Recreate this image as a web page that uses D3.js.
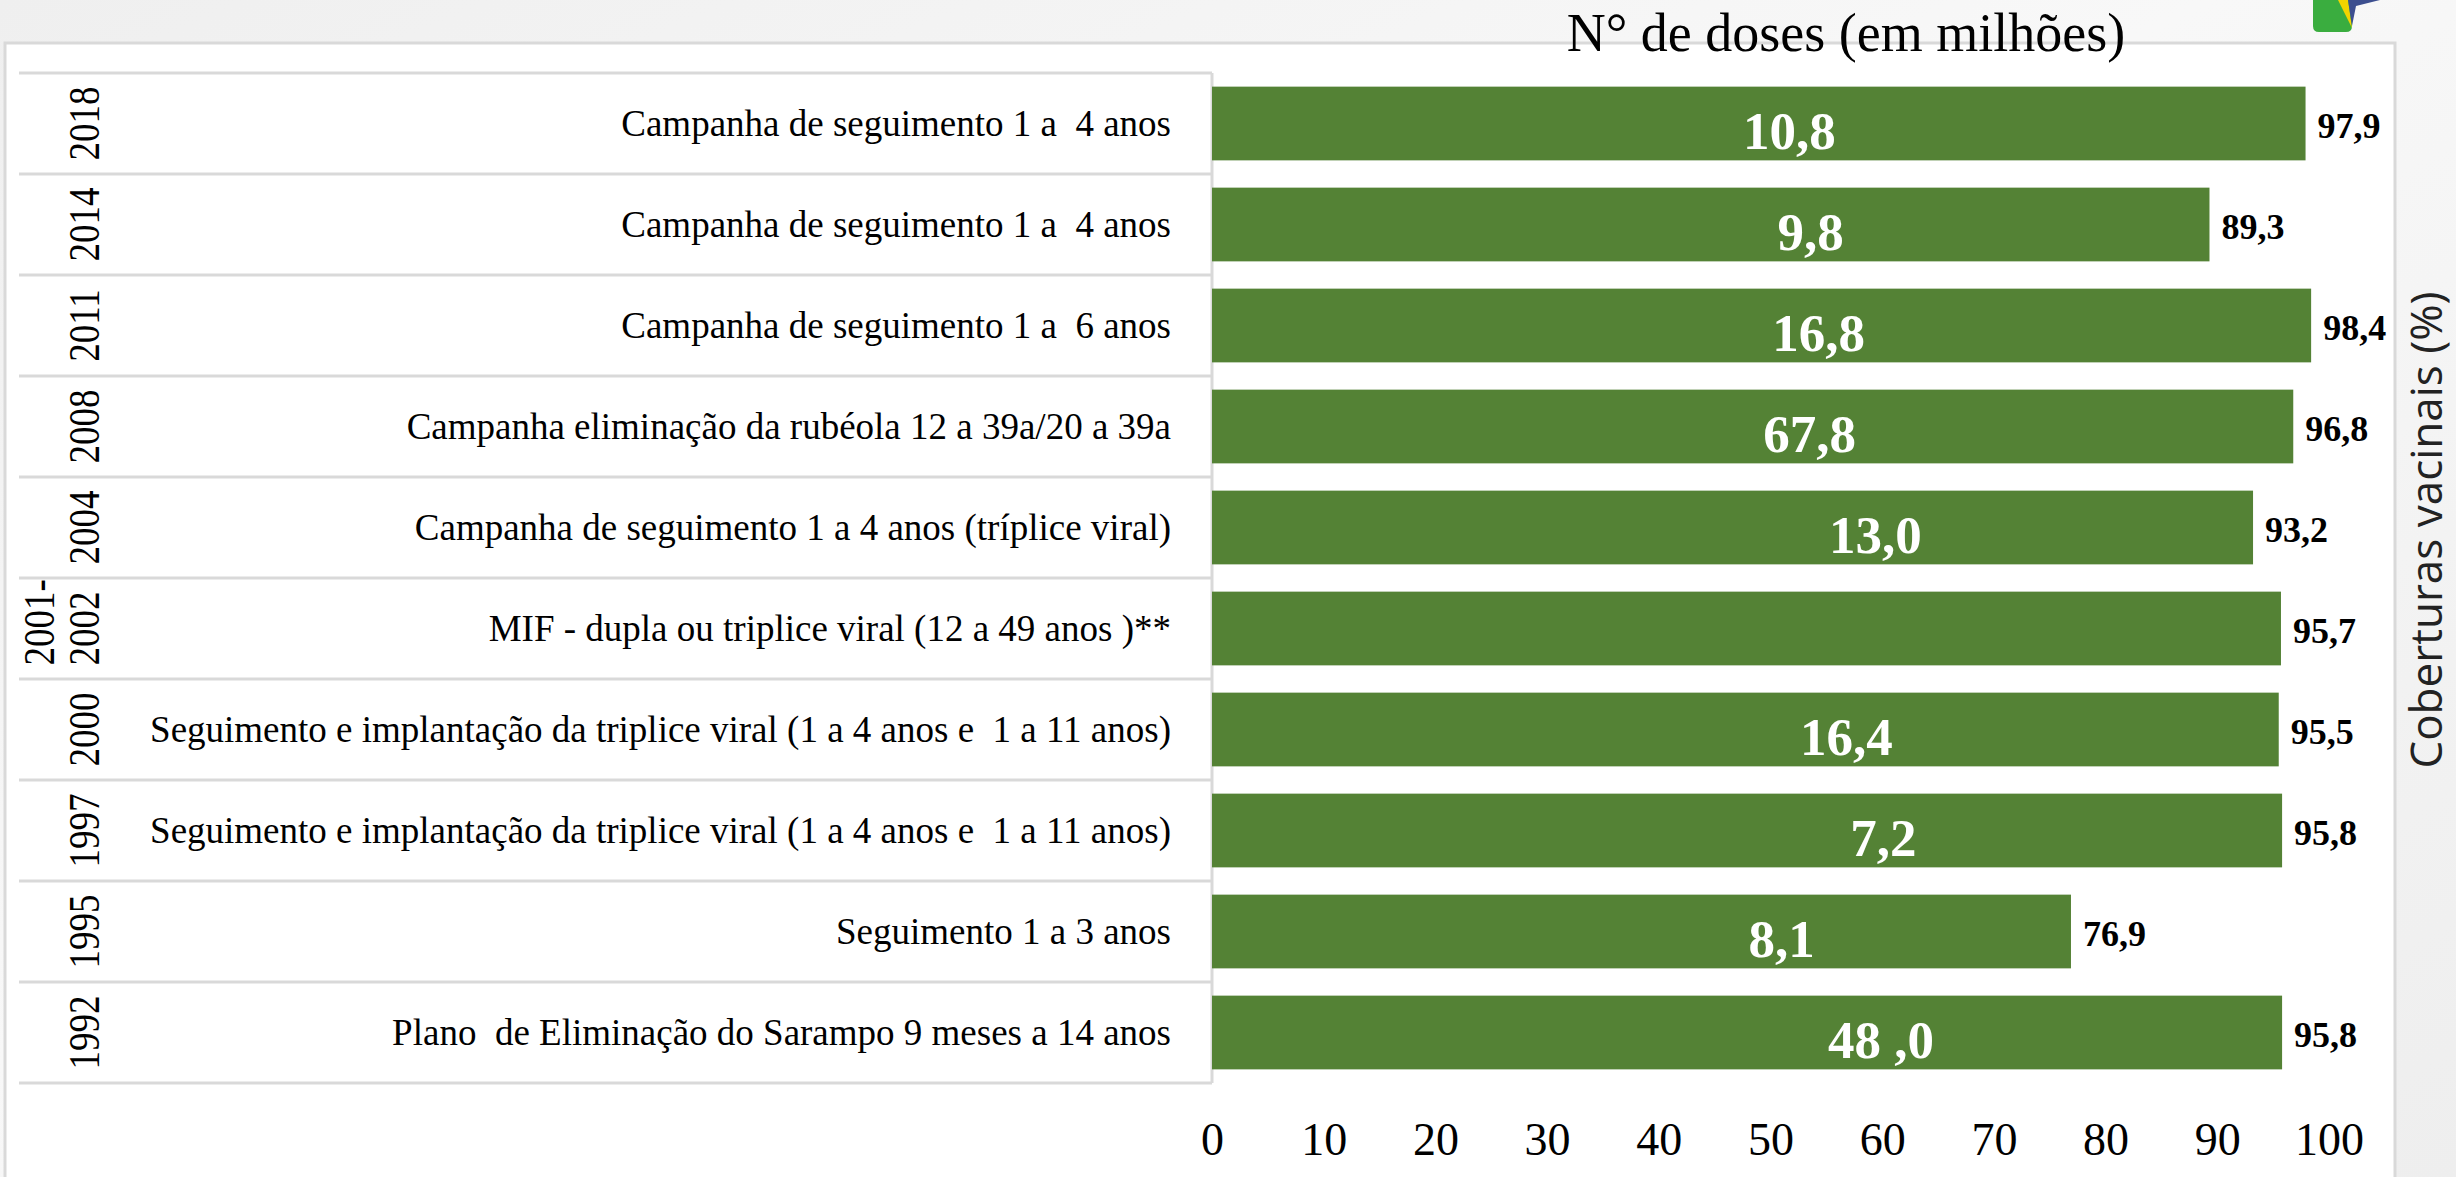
<!DOCTYPE html>
<html>
<head>
<meta charset="utf-8">
<script src="https://cdn.jsdelivr.net/npm/d3@7"></script>
<style>
  html, body { margin: 0; padding: 0; background: #f2f2f2; }
  svg text { white-space: pre; }
</style>
</head>
<body>
<svg id="chart" width="2456" height="1177"></svg>
<script>
// rows, top to bottom
const years = ["2018", "2014", "2011", "2008", "2004", "2001-\n2002", "2000", "1997", "1995", "1992"];
const campaigns = [
  "Campanha de seguimento 1 a  4 anos",
  "Campanha de seguimento 1 a  4 anos",
  "Campanha de seguimento 1 a  6 anos",
  "Campanha eliminação da rubéola 12 a 39a/20 a 39a",
  "Campanha de seguimento 1 a 4 anos (tríplice viral)",
  "MIF - dupla ou triplice viral (12 a 49 anos )**",
  "Seguimento e implantação da triplice viral (1 a 4 anos e  1 a 11 anos)",
  "Seguimento e implantação da triplice viral (1 a 4 anos e  1 a 11 anos)",
  "Seguimento 1 a 3 anos",
  "Plano  de Eliminação do Sarampo 9 meses a 14 anos"
];
// coverage (%) -> bar length
const coverage = [97.9, 89.3, 98.4, 96.8, 93.2, 95.7, 95.5, 95.8, 76.9, 95.8];
// doses (millions) written inside the bars, and where on the axis each one sits
const doseText = ["10,8", "9,8", "16,8", "67,8", "13,0", "", "16,4", "7,2", "8,1", "48 ,0"];
const doseLabelAt = [51.7, 53.6, 54.3, 53.5, 59.4, 0, 56.8, 60.1, 51.0, 59.9];
const xTicks = [0, 10, 20, 30, 40, 50, 60, 70, 80, 90, 100];

const ptBR = d3.formatLocale({decimal: ",", thousands: ".", grouping: [3], currency: ["R$", ""]});
const fmt = ptBR.format(".1f");

const svg = d3.select("#chart");
const serif = "'Liberation Serif', 'Times New Roman', serif";

// background + white panel
const defs = svg.append("defs");
const bg = defs.append("linearGradient").attr("id", "bg").attr("x1", 0).attr("y1", 0).attr("x2", 1).attr("y2", 1);
bg.append("stop").attr("offset", "0%").attr("stop-color", "#efefef");
bg.append("stop").attr("offset", "45%").attr("stop-color", "#f8f8f8");
bg.append("stop").attr("offset", "100%").attr("stop-color", "#eeeeee");
svg.append("rect").attr("width", 2456).attr("height", 1177).attr("fill", "url(#bg)");
svg.append("rect")
  .attr("x", 5).attr("y", 43).attr("width", 2390).attr("height", 1150)
  .attr("fill", "#ffffff").attr("stroke", "#d9d9d9").attr("stroke-width", 3);

// little logo peeking at the top right
const logo = svg.append("g");
logo.append("path").attr("d", "M2313,0 L2352,0 L2352,26 Q2352,32 2346,32 L2319,32 Q2313,32 2313,26 Z").attr("fill", "#3aad3f");
logo.append("path").attr("d", "M2338,0 L2348,0 L2352,28 Z").attr("fill", "#f2d400");
logo.append("path").attr("d", "M2348,0 L2380,0 L2356,6 L2352,26 Z").attr("fill", "#3d4f8f");

const keys = d3.range(years.length);
const x = d3.scaleLinear().domain([0, 100]).range([1212, 2329]);
const rowY = d3.scaleBand().domain(keys).range([73, 1083]);
const y = d3.scaleBand().domain(keys).range([73, 1083]).paddingInner(0.27).paddingOuter(0.135);

// table lines
const grid = svg.append("g").attr("stroke", "#d9d9d9").attr("stroke-width", 3);
grid.selectAll("line.h")
  .data(d3.range(years.length + 1))
  .enter().append("line")
  .attr("class", "h")
  .attr("x1", 19).attr("x2", x(0))
  .attr("y1", i => rowY.range()[0] + i * rowY.step())
  .attr("y2", i => rowY.range()[0] + i * rowY.step());
grid.append("line")
  .attr("x1", x(0)).attr("x2", x(0))
  .attr("y1", rowY.range()[0]).attr("y2", rowY.range()[1]);

// year column (rotated)
const yearG = svg.append("g");
keys.forEach(i => {
  const lines = years[i].split("\n");
  const cy = rowY(i) + rowY.bandwidth() / 2;
  const t = yearG.append("text")
    .attr("transform", `translate(84,${cy}) rotate(-90) scale(1,1.22)`)
    .attr("font-family", serif).attr("font-size", 37).attr("fill", "#000");
  lines.forEach((ln, j) => {
    t.append("tspan")
      .attr("x", 0)
      .attr("y", ((j - (lines.length - 1)) * 1 + 0.34) + "em")
      .text(ln);
  });
  if (lines.length > 1) {
    const last = t.selectAll("tspan").nodes()[lines.length - 1];
    const len = last.getComputedTextLength();
    t.attr("text-anchor", "start").selectAll("tspan").attr("x", -len / 2);
  } else {
    t.attr("text-anchor", "middle");
  }
});

// campaign descriptions
svg.append("g").selectAll("text")
  .data(keys)
  .enter().append("text")
  .attr("x", 1171)
  .attr("y", i => rowY(i) + rowY.bandwidth() / 2)
  .attr("dy", "0.33em")
  .attr("text-anchor", "end")
  .attr("font-family", serif).attr("font-size", 37).attr("fill", "#000")
  .text(i => campaigns[i]);

// bars
svg.append("g").selectAll("rect")
  .data(keys)
  .enter().append("rect")
  .attr("x", x(0))
  .attr("y", i => y(i))
  .attr("width", i => x(coverage[i]) - x(0))
  .attr("height", y.bandwidth())
  .attr("fill", "#548235");

// doses inside bars
svg.append("g").selectAll("text")
  .data(keys.filter(i => doseText[i] !== ""))
  .enter().append("text")
  .attr("x", i => x(doseLabelAt[i]))
  .attr("y", i => y(i) + y.bandwidth() / 2 + 7)
  .attr("dy", "0.34em")
  .attr("text-anchor", "middle")
  .attr("font-family", serif).attr("font-weight", "bold").attr("font-size", 53)
  .attr("fill", "#ffffff")
  .text(i => doseText[i]);

// coverage values at bar ends
svg.append("g").selectAll("text")
  .data(keys)
  .enter().append("text")
  .attr("x", i => x(coverage[i]) + 12)
  .attr("y", i => y(i) + y.bandwidth() / 2 + 2)
  .attr("dy", "0.34em")
  .attr("font-family", serif).attr("font-weight", "bold").attr("font-size", 36)
  .attr("fill", "#000")
  .text(i => fmt(coverage[i]));

// x axis
const axis = svg.append("g")
  .attr("transform", "translate(0,1139)")
  .call(d3.axisBottom(x).tickValues(xTicks).tickSize(0).tickPadding(0));
axis.select(".domain").remove();
axis.selectAll("text")
  .attr("y", 0).attr("dy", "0.34em")
  .attr("font-family", serif).attr("font-size", 46).attr("fill", "#000");

// titles
svg.append("text")
  .attr("x", 1846).attr("y", 51)
  .attr("text-anchor", "middle")
  .attr("font-family", serif).attr("font-size", 54).attr("fill", "#000")
  .text("N° de doses (em milhões)");

svg.append("text")
  .attr("transform", "translate(2442,530) rotate(-90)")
  .attr("text-anchor", "middle")
  .attr("font-family", "'Open Sans', sans-serif").attr("font-size", 44).attr("fill", "#222")
  .text("Coberturas vacinais (%)");
</script>
</body>
</html>
